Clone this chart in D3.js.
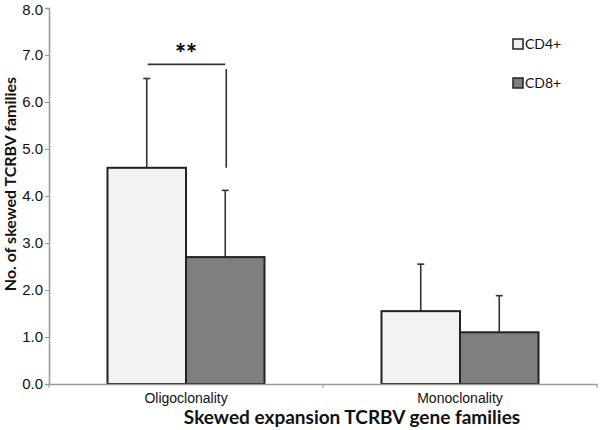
<!DOCTYPE html>
<html>
<head>
<meta charset="utf-8">
<script src="https://cdn.jsdelivr.net/npm/d3@7"></script>
<style>
  body { margin: 0; background: #fff; }
  svg { font-family: Lato, "Open Sans", sans-serif; }
</style>
</head>
<body>
<svg id="chart" width="600" height="430"></svg>
<script>
var categories = ["Oligoclonality", "Monoclonality"],
    seriesNames = ["CD4+", "CD8+"],
    cd4Means = [4.6, 1.55],
    cd4Errors = [6.5, 2.55],
    cd8Means = [2.7, 1.1],
    cd8Errors = [4.12, 1.88],
    yTicks = [0, 1, 2, 3, 4, 5, 6, 7, 8];

const colors = { "CD4+": "#f2f2f2", "CD8+": "#7f7f7f" };

var svg = d3.select("#chart");

var x0 = d3.scaleBand().domain(categories).range([49, 597]).padding(0);
var x1 = d3.scaleBand().domain(seriesNames).range([0, x0.bandwidth()])
  .paddingInner(0).paddingOuter(0.745);
var y = d3.scaleLinear().domain([0, 8]).range([384, 8]);

// build rows from the arrays
var rows = [];
categories.forEach(function(c, i) {
  rows.push({ cat: c, series: "CD4+", mean: cd4Means[i], top: cd4Errors[i] });
  rows.push({ cat: c, series: "CD8+", mean: cd8Means[i], top: cd8Errors[i] });
});

//Error bars drawn first so the bars cover the lower part
var err = svg.append("g").attr("stroke", "#333").attr("stroke-width", 1.6);
rows.forEach(function(d) {
  var cx = x0(d.cat) + x1(d.series) + x1.bandwidth() / 2;
  err.append("line").attr("x1", cx).attr("x2", cx)
    .attr("y1", y(d.mean)).attr("y2", y(d.top));
  err.append("line").attr("x1", cx - 3.5).attr("x2", cx + 3.5)
    .attr("y1", y(d.top)).attr("y2", y(d.top));
});

svg.append("g").selectAll("rect").data(rows).join("rect")
  .attr("x", d => x0(d.cat) + x1(d.series))
  .attr("y", d => y(d.mean))
  .attr("width", x1.bandwidth())
  .attr("height", d => y(0) - y(d.mean))
  .attr("fill", d => colors[d.series])
  .attr("stroke", "#222")
  .attr("stroke-width", 2);

// y axis
var yAxis = svg.append("g").attr("transform", "translate(49,0)")
  .call(d3.axisLeft(y).tickValues(yTicks).tickFormat(d3.format(".1f")).tickSizeOuter(0).tickSize(4));
yAxis.select(".domain").attr("stroke", "#999").attr("stroke-width", 1.5);
yAxis.selectAll(".tick line").attr("stroke", "#999");
yAxis.selectAll(".tick text").attr("font-size", 15).attr("fill", "#111").attr("x", -6)
  .attr("dy", d => d === 8 ? "0.45em" : "0.32em");

// x axis
var xAxis = svg.append("g").attr("transform", "translate(0,384)")
  .call(d3.axisBottom(x0).tickSize(0).tickSizeOuter(0));
xAxis.select(".domain").attr("stroke", "#999").attr("stroke-width", 1.5);
xAxis.selectAll(".tick text").attr("font-size", 14).attr("fill", "#111").attr("dy", "1.15em");
var boundaries = [49].concat(categories.map(c => x0(c) + x0.bandwidth()));
xAxis.selectAll(".sep").data(boundaries).join("line")
  .attr("x1", d => d).attr("x2", d => d).attr("y1", 0).attr("y2", 4)
  .attr("stroke", "#999");

// axis titles
svg.append("text")
  .attr("transform", "translate(16,184) rotate(-90)")
  .attr("text-anchor", "middle")
  .attr("font-size", 16).attr("font-weight", "bold").attr("fill", "#111")
  .text("No. of skewed TCRBV families");
svg.append("text")
  .attr("x", 352).attr("y", 424)
  .attr("text-anchor", "middle")
  .attr("font-size", 19).attr("font-weight", "bold").attr("fill", "#111")
  .text("Skewed expansion TCRBV gene families");

// significance bracket
var leftX = x0(categories[0]) + x1("CD4+") + x1.bandwidth() / 2,
    rightX = x0(categories[0]) + x1("CD8+") + x1.bandwidth() / 2;
var br = svg.append("g").attr("stroke", "#333").attr("stroke-width", 1.6).attr("fill", "none");
br.append("line").attr("x1", leftX + 1).attr("x2", rightX).attr("y1", y(6.8)).attr("y2", y(6.8));
br.append("line").attr("x1", rightX + 1).attr("x2", rightX + 1).attr("y1", y(6.7)).attr("y2", y(cd4Means[0]));
svg.append("text")
  .attr("x", (leftX + rightX) / 2).attr("y", y(6.8) - 1)
  .attr("text-anchor", "middle")
  .attr("font-size", 26).attr("font-weight", "900").attr("fill", "#111")
  .text("**");

// legend
var legend = svg.append("g");
seriesNames.forEach(function(s, i) {
  var ly = 39 + i * 39;
  legend.append("rect").attr("x", 513).attr("y", ly).attr("width", 10).attr("height", 10)
    .attr("fill", colors[s]).attr("stroke", "#222").attr("stroke-width", 1.5);
  legend.append("text").attr("x", 525).attr("y", ly + 10)
    .attr("font-size", 14).attr("fill", "#111").text(s);
});
</script>
</body>
</html>
